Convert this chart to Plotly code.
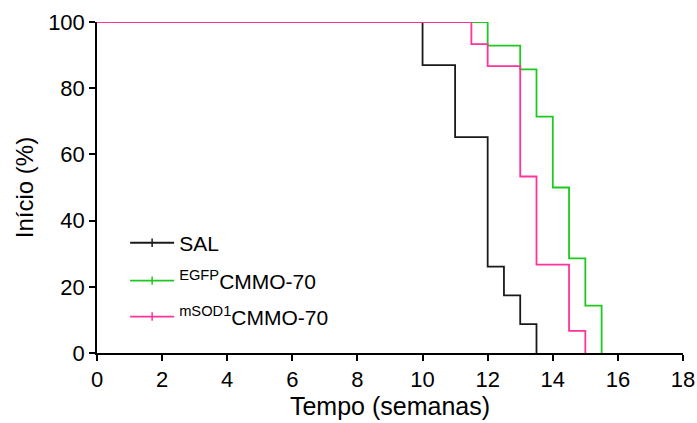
import plotly.graph_objects as go

# Data
sal_x = [0, 10, 11, 12, 12.5, 13, 13.5]
sal_y = [100, 86.96, 65.22, 26.09, 17.39, 8.70, 0]
egfp_x = [0, 12, 13, 13.5, 14, 14.5, 15, 15.5]
egfp_y = [100, 92.86, 85.71, 71.43, 50.0, 28.57, 14.29, 0]
msod_x = [0, 11.5, 12, 13, 13.5, 14.5, 15]
msod_y = [100, 93.33, 86.67, 53.33, 26.67, 6.67, 0]

names = ["SAL", "<sup>EGFP</sup>CMMO-70", "<sup>mSOD1</sup>CMMO-70"]
colors = ["#1a1a1a", "#1ec81e", "#ff3399"]
series = [(sal_x, sal_y), (egfp_x, egfp_y), (msod_x, msod_y)]
legend_ids = ["legend", "legend2", "legend3"]

fig = go.Figure()
for (xs, ys), nm, c in zip(series, names, colors):
    fig.add_trace(go.Scatter(x=xs, y=ys, mode="lines", line=dict(color=c, width=1.8, shape="hv"),
                             showlegend=False, legendgroup=nm, cliponaxis=False, hoverinfo="skip"))
for nm, c, lg in zip(names, colors, legend_ids):
    fig.add_trace(go.Scatter(x=[None], y=[None], mode="lines+markers", name=nm, legendgroup=nm,
                             legend=lg, line=dict(color=c, width=1.8),
                             marker=dict(symbol="line-ns-open", size=6, line=dict(color=c, width=1.5))))

font_family = "Arial, Liberation Sans, sans-serif"
leg_common = dict(x=0.048, xanchor="left", yanchor="middle", bgcolor="rgba(0,0,0,0)",
                  font=dict(size=21), itemwidth=44)
fig.update_layout(
    width=697, height=423,
    margin=dict(l=97, r=14, t=22, b=70, autoexpand=False),
    paper_bgcolor="white", plot_bgcolor="white",
    font=dict(family=font_family, size=22, color="black"),
    showlegend=True,
    legend=dict(y=0.332, **leg_common),
    legend2=dict(y=0.2175, **leg_common),
    legend3=dict(y=0.109, **leg_common),
    xaxis=dict(range=[0, 18], tickvals=list(range(0, 19, 2)), showline=True, linecolor="black",
               linewidth=1.5, ticks="outside", ticklen=6, tickwidth=1.5, tickcolor="black",
               showgrid=False, zeroline=False, automargin=False,
               title=dict(text="Tempo (semanas)", font=dict(size=25), standoff=6)),
    yaxis=dict(range=[0, 100], tickvals=[0, 20, 40, 60, 80, 100], showline=True, linecolor="black",
               linewidth=1.5, ticks="outside", ticklen=6, tickwidth=1.5, tickcolor="black",
               showgrid=False, zeroline=False, automargin=False,
               title=dict(text="Início (%)", font=dict(size=24), standoff=8)),
)
fig.write_html("out.html")
